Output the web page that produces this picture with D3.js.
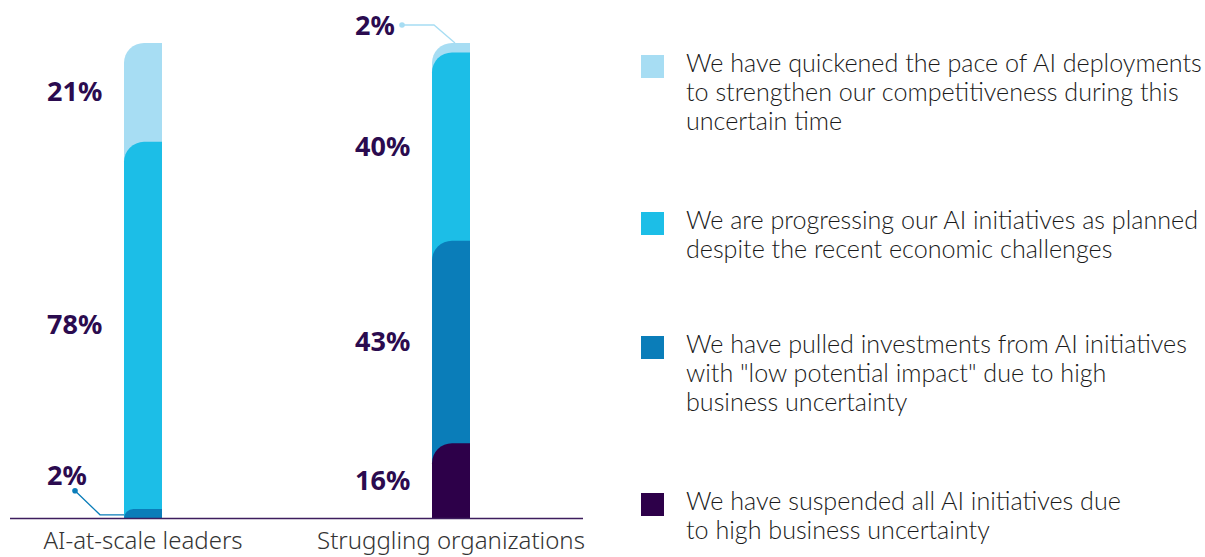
<!DOCTYPE html>
<html>
<head>
<meta charset="utf-8">
<script src="https://cdn.jsdelivr.net/npm/d3@7"></script>
<style>
  body { margin: 0; background: #fff; }
  svg { display: block; }
</style>
</head>
<body>
<script>
// data
const categories = ["AI-at-scale leaders", "Struggling organizations"];
// stacked bottom -> top
const suspended   = [0, 16];
const pulled      = [2, 43];
const progressing = [78, 40];
const quickened   = [21, 2];

const seriesKeys = ["suspended", "pulled", "progressing", "quickened"];
const seriesColors = ["#2d0049", "#0a7db9", "#1cbee7", "#a7ddf3"];

// legend, top -> bottom, already broken into lines like the original
const legendKeys = ["quickened", "progressing", "pulled", "suspended"];
const legendLines = [
  ["We have quickened the pace of AI deployments", "to strengthen our competitiveness during this", "uncertain time"],
  ["We are progressing our AI initiatives as planned", "despite the recent economic challenges"],
  ["We have pulled investments from AI initiatives", "with \"low potential impact\" due to high", "business uncertainty"],
  ["We have suspended all AI initiatives due", "to high business uncertainty"]
];

const width = 1205, height = 557;
const baseY = 518.5, topY = 43;
const barW = 38;
const labelColor = "#2b0b4f";

const svg = d3.select("body").append("svg")
    .attr("width", width)
    .attr("height", height);

// build stacked rows
const rows = categories.map((c, i) => ({
  cat: c,
  suspended: suspended[i], pulled: pulled[i],
  progressing: progressing[i], quickened: quickened[i]
}));
const stack = d3.stack().keys(seriesKeys);
const layers = stack(rows);

const x = d3.scalePoint().domain(categories).range([143, 451]);
const y = d3.scaleLinear()
    .domain([0, d3.max(layers[layers.length - 1], d => d[1])])
    .range([baseY, topY]);
const color = d3.scaleOrdinal().domain(seriesKeys).range(seriesColors);

// rect from baseline with only the top-left corner rounded
function segPath(x0, yTop, w, r) {
  r = Math.min(r, baseY - yTop);
  return "M" + x0 + "," + baseY +
    "V" + (yTop + r) +
    "A" + r + "," + r + " 0 0 1 " + (x0 + r) + "," + yTop +
    "H" + (x0 + w) +
    "V" + baseY + "Z";
}

// draw top layers first so lower ones (with rounded corners) sit over them
const g = svg.append("g");
layers.slice().reverse().forEach(layer => {
  g.selectAll(null)
    .data(layer.filter(d => d[1] - d[0] > 0))
    .enter()
    .append("path")
      .attr("d", d => segPath(x(d.data.cat) - barW / 2, y(d[1]), barW, 20))
      .attr("fill", color(layer.key));
});

// baseline
svg.append("line")
    .attr("x1", 10).attr("x2", 583)
    .attr("y1", baseY).attr("y2", baseY)
    .attr("stroke", "#3d1d5e")
    .attr("stroke-width", 1.5);

// value labels
const labels = svg.append("g")
    .attr("font-family", "'Noto Sans', sans-serif")
    .attr("font-weight", 700)
    .attr("font-size", 27)
    .attr("fill", labelColor);

layers.forEach((layer, li) => {
  layer.forEach(d => {
    const v = d[1] - d[0];
    if (v <= 0) return;
    const bx = x(d.data.cat) - barW / 2;
    const lx = bx - 77;
    const lc = color(layer.key);
    if (v >= 5) {
      labels.append("text")
        .attr("x", lx)
        .attr("y", (y(d[0]) + y(d[1])) / 2 + 9)
        .text(v + "%");
    } else if (li === layers.length - 1) {
      // small top segment: callout above the bar
      const yt = y(d[1]);
      svg.append("polyline")
        .attr("points", [[bx + 23, yt], [bx + 2, yt - 18], [bx - 30, yt - 18]].join(" "))
        .attr("fill", "none").attr("stroke", lc).attr("stroke-width", 1.3);
      svg.append("circle").attr("cx", bx - 30).attr("cy", yt - 18).attr("r", 2.8).attr("fill", lc);
      labels.append("text").attr("x", lx).attr("y", yt - 8).text(v + "%");
    } else {
      // small bottom segment: callout to the left
      const ym = (y(d[0]) + y(d[1])) / 2 + 1;
      svg.append("polyline")
        .attr("points", [[bx, ym], [bx - 24, ym], [bx - 49, ym - 24]].join(" "))
        .attr("fill", "none").attr("stroke", lc).attr("stroke-width", 1.3);
      svg.append("circle").attr("cx", bx - 49).attr("cy", ym - 24).attr("r", 2.8).attr("fill", lc);
      labels.append("text").attr("x", lx).attr("y", ym - 30).text(v + "%");
    }
  });
});

// category labels
svg.append("g").selectAll("text")
  .data(categories)
  .enter()
  .append("text")
    .attr("x", d => x(d))
    .attr("y", 549)
    .attr("text-anchor", "middle")
    .attr("font-family", "'Noto Sans', sans-serif")
    .attr("font-weight", 300)
    .attr("font-size", 24)
    .attr("fill", "#333")
    .text(d => d);

// legend
const legendTop = [55, 212, 336, 493];
const leg = svg.append("g")
    .attr("font-family", "Lato, sans-serif")
    .attr("font-weight", 300)
    .attr("font-size", 24)
    .attr("fill", "#1a1a1a");

legendKeys.forEach((k, i) => {
  const item = leg.append("g").attr("transform", "translate(641," + legendTop[i] + ")");
  item.append("rect")
    .attr("width", 23).attr("height", 23)
    .attr("fill", color(k));
  item.selectAll("text")
    .data(legendLines[i])
    .enter()
    .append("text")
      .attr("x", 45)
      .attr("y", (d, j) => 17 + j * 29)
      .text(d => d);
});

// size the legend font so the first line spans the same width as the original (~516px)
const firstLine = leg.select("text").node();
const w24 = firstLine.getComputedTextLength();
leg.attr("font-size", Math.min(26, 24 * 516 / w24));
</script>
</body>
</html>
